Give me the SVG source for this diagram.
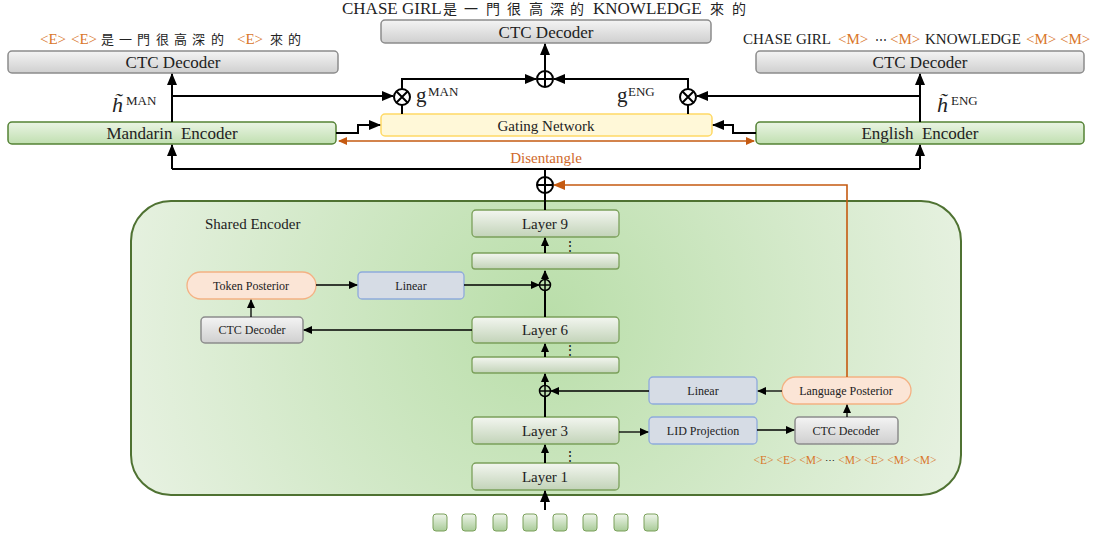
<svg xmlns="http://www.w3.org/2000/svg" width="1099" height="537" viewBox="0 0 1099 537">
<defs>
<linearGradient id="gGrey" x1="0" y1="0" x2="0" y2="1"><stop offset="0" stop-color="#f4f4f4"/><stop offset="1" stop-color="#cfcfcf"/></linearGradient>
<linearGradient id="gGreen" x1="0" y1="0" x2="0" y2="1"><stop offset="0" stop-color="#eaf4e4"/><stop offset="1" stop-color="#c0dfb0"/></linearGradient>
<linearGradient id="gLayer" x1="0" y1="0" x2="0" y2="1"><stop offset="0" stop-color="#f3f6f0"/><stop offset="1" stop-color="#c2d3b8"/></linearGradient>
<linearGradient id="gSq" x1="0" y1="0" x2="0" y2="1"><stop offset="0" stop-color="#eef5ea"/><stop offset="1" stop-color="#a9cb98"/></linearGradient>
<radialGradient id="gShared" cx="545" cy="320" r="430" gradientUnits="userSpaceOnUse"><stop offset="0" stop-color="#b9dea9"/><stop offset="1" stop-color="#e6f1e0"/></radialGradient>
<marker id="a" markerUnits="userSpaceOnUse" markerWidth="12" markerHeight="10" refX="11" refY="5" orient="auto"><path d="M0,0 L12,5 L0,10 z" fill="#000"/></marker>
<marker id="s" markerUnits="userSpaceOnUse" markerWidth="9" markerHeight="8" refX="8" refY="4" orient="auto"><path d="M0,0 L9,4 L0,8 z" fill="#000"/></marker>
<marker id="o" markerUnits="userSpaceOnUse" markerWidth="12" markerHeight="10" refX="11" refY="5" orient="auto"><path d="M0,0 L12,5 L0,10 z" fill="#c55a11"/></marker>
<marker id="os" markerUnits="userSpaceOnUse" markerWidth="9" markerHeight="8" refX="8" refY="4" orient="auto-start-reverse"><path d="M0,0 L9,4 L0,8 z" fill="#c55a11"/></marker>
</defs>
<style>
text{font-family:"Liberation Serif","Noto Sans CJK TC",serif;fill:#222;}
.c{text-anchor:middle;}
.cjk{font-family:"Noto Sans CJK TC","Liberation Serif",serif;}
.dj{font-family:"DejaVu Serif",serif;}
.or{fill:#d9772b;}
.grey{fill:url(#gGrey);stroke:#8c8c8c;stroke-width:1.5;}
.enc{fill:url(#gGreen);stroke:#548235;stroke-width:1.5;}
.layer{fill:url(#gLayer);stroke:#7ba05b;stroke-width:1.3;}
.lin{fill:#d6dce5;stroke:#8faadc;stroke-width:1.3;}
.post{fill:#fbe5d6;stroke:#f4b183;stroke-width:1.3;}
.gate{fill:#fff8d8;stroke:#ffd966;stroke-width:1.5;}
.sq{fill:url(#gSq);stroke:#7aa05a;stroke-width:1;}
.w{fill:none;stroke:#000;stroke-width:2;}
.t{fill:none;stroke:#000;stroke-width:1.3;}
.op{fill:none;stroke:#000;stroke-width:2;}
.ops{fill:none;stroke:#000;stroke-width:1.5;}
</style>

<!-- Shared encoder container -->
<g id="shared-encoder">
<rect x="131" y="201" width="830" height="294" rx="40" fill="url(#gShared)" stroke="#4f7232" stroke-width="2"/>
<text x="205" y="229" font-size="15">Shared Encoder</text>
</g>

<!-- top labels -->
<text x="342" y="14" font-size="17">CHASE GIRL<tspan class="cjk" font-size="14" x="443 464 486 507 529 550 570">是一門很高深的</tspan><tspan x="593">KNOWLEDGE</tspan><tspan class="cjk" font-size="14" x="710 732">來的</tspan></text>
<text y="44" font-size="15"><tspan class="or" x="40">&lt;E&gt;</tspan><tspan class="or" x="71">&lt;E&gt;</tspan><tspan class="cjk" font-size="13" x="101 119 137 156 174 192 211">是一門很高深的</tspan><tspan class="or" x="237">&lt;E&gt;</tspan><tspan class="cjk" font-size="13" x="270 288">來的</tspan></text>
<text y="44" font-size="15"><tspan x="743">CHASE  GIRL</tspan><tspan class="or" x="838">&lt;M&gt;</tspan><tspan class="dj" font-size="12" x="875">⋯</tspan><tspan class="or" x="890">&lt;M&gt;</tspan><tspan x="925">KNOWLEDGE</tspan><tspan class="or" x="1026">&lt;M&gt;</tspan><tspan class="or" x="1060">&lt;M&gt;</tspan></text>

<g id="ctc-top"><rect class="grey" x="381" y="20" width="330" height="23" rx="4"/><text class="c" x="546" y="38" font-size="17">CTC Decoder</text></g>
<g id="ctc-man"><rect class="grey" x="8" y="51" width="330" height="22" rx="4"/><text class="c" x="173" y="68" font-size="17">CTC Decoder</text></g>
<g id="ctc-eng"><rect class="grey" x="756" y="51" width="328" height="22" rx="4"/><text class="c" x="920" y="68" font-size="17">CTC Decoder</text></g>
<g id="mandarin-encoder"><rect class="enc" x="8" y="122" width="328" height="22" rx="4"/><text class="c" x="172" y="139" font-size="17" xml:space="preserve">Mandarin  Encoder</text></g>
<g id="english-encoder"><rect class="enc" x="756" y="122" width="328" height="22" rx="4"/><text class="c" x="920" y="139" font-size="17" xml:space="preserve">English  Encoder</text></g>
<g id="gating-network"><rect class="gate" x="381" y="114" width="331" height="22" rx="4"/><text class="c" x="546" y="131" font-size="15">Gating Network</text></g>

<g id="layer9"><rect class="layer" x="472" y="210" width="147" height="27" rx="4"/><text class="c" x="545" y="229" font-size="15">Layer 9</text></g>
<g id="layer-8"><rect class="layer" x="472" y="253" width="147" height="16" rx="3"/></g>
<g id="layer6"><rect class="layer" x="472" y="317" width="147" height="26" rx="4"/><text class="c" x="545" y="335" font-size="15">Layer 6</text></g>
<g id="layer-5"><rect class="layer" x="472" y="357" width="147" height="16" rx="3"/></g>
<g id="layer3"><rect class="layer" x="472" y="417" width="147" height="27" rx="4"/><text class="c" x="545" y="436" font-size="15">Layer 3</text></g>
<g id="layer1"><rect class="layer" x="472" y="463" width="147" height="27" rx="4"/><text class="c" x="545" y="482" font-size="15">Layer 1</text></g>

<g id="token-posterior"><rect class="post" x="187" y="272" width="129" height="27" rx="13.5"/><text class="c" x="251" y="290" font-size="12">Token Posterior</text></g>
<g id="linear-top"><rect class="lin" x="358" y="272" width="106" height="27" rx="4"/><text class="c" x="411" y="290" font-size="12">Linear</text></g>
<g id="ctc-shared"><rect class="grey" x="201" y="317" width="102" height="26" rx="4" stroke-width="1.2"/><text class="c" x="252" y="334" font-size="12">CTC Decoder</text></g>
<g id="linear-bottom"><rect class="lin" x="649" y="377" width="108" height="27" rx="4"/><text class="c" x="703" y="395" font-size="12">Linear</text></g>
<g id="language-posterior"><rect class="post" x="782" y="377" width="129" height="27" rx="13.5"/><text class="c" x="846" y="395" font-size="12">Language Posterior</text></g>
<g id="lid-projection"><rect class="lin" x="649" y="417" width="108" height="27" rx="4"/><text class="c" x="703" y="435" font-size="12">LID Projection</text></g>
<g id="ctc-lid"><rect class="grey" x="795" y="417" width="103" height="27" rx="4" stroke-width="1.2"/><text class="c" x="846" y="435" font-size="12">CTC Decoder</text></g>
<text class="c or" x="845" y="464" font-size="11.5" xml:space="preserve">&lt;E&gt; &lt;E&gt; &lt;M&gt; <tspan class="dj" font-size="10" fill="#222">⋯</tspan> &lt;M&gt; &lt;E&gt; &lt;M&gt; &lt;M&gt;</text>

<g id="inputs">
<rect class="sq" x="433" y="514" width="14" height="17" rx="3"/>
<rect class="sq" x="462" y="514" width="14" height="17" rx="3"/>
<rect class="sq" x="493" y="514" width="14" height="17" rx="3"/>
<rect class="sq" x="523" y="514" width="14" height="17" rx="3"/>
<rect class="sq" x="553" y="514" width="14" height="17" rx="3"/>
<rect class="sq" x="583" y="514" width="14" height="17" rx="3"/>
<rect class="sq" x="614" y="514" width="14" height="17" rx="3"/>
<rect class="sq" x="644" y="514" width="14" height="17" rx="3"/>
</g>

<!-- operators -->
<g id="otimes-man"><circle class="op" cx="402" cy="97" r="8" fill="#fff"/><path class="op" d="M396.3,91.3 L407.7,102.7 M407.7,91.3 L396.3,102.7"/></g>
<g id="otimes-eng"><circle class="op" cx="688" cy="97" r="8" fill="#fff"/><path class="op" d="M682.3,91.3 L693.7,102.7 M693.7,91.3 L682.3,102.7"/></g>
<g id="oplus-top"><circle class="op" cx="545" cy="79" r="8"/><path class="op" d="M537,79 H553 M545,71 V87"/></g>
<g id="oplus-mid"><circle class="op" cx="545" cy="185" r="8"/><path class="op" d="M537,185 H553 M545,177 V193"/></g>
<g id="oplus-l6"><circle class="ops" cx="545" cy="285" r="5.5"/><path class="ops" d="M539.5,285 H550.5 M545,279.5 V290.5"/></g>
<g id="oplus-l3"><circle class="ops" cx="545" cy="391" r="5.5"/><path class="ops" d="M539.5,391 H550.5 M545,385.5 V396.5"/></g>

<!-- labels -->
<text x="112" y="112" font-size="22" font-style="italic">h&#x303;</text><text x="126" y="105" font-size="13">MAN</text>
<text x="937" y="112" font-size="22" font-style="italic">h&#x303;</text><text x="951" y="105" font-size="13">ENG</text>
<text x="416" y="102" font-size="21">g</text><text x="428" y="96" font-size="13">MAN</text>
<text x="617" y="102" font-size="21">g</text><text x="628" y="96" font-size="13">ENG</text>
<text class="c" x="546" y="163" font-size="15" style="fill:#d0692a">Disentangle</text>
<text class="dj" x="563" y="251" font-size="14">⋮</text>
<text class="dj" x="563" y="355" font-size="14">⋮</text>
<text class="dj" x="563" y="461" font-size="14">⋮</text>

<g id="connectors">
<path class="w" d="M172,122 V74" marker-end="url(#a)"/>
<path class="w" d="M172,96 H393" marker-end="url(#a)"/>
<path class="w" d="M402,114 V105"/>
<path class="w" d="M402,89 V79 H536" marker-end="url(#a)"/>
<path class="w" d="M688,114 V105"/>
<path class="w" d="M688,89 V79 H554" marker-end="url(#a)"/>
<path class="w" d="M545,71 V44" marker-end="url(#a)"/>
<path class="w" d="M920,122 V74" marker-end="url(#a)"/>
<path class="w" d="M920,96 H697" marker-end="url(#a)"/>
<path class="w" d="M336,133 H358 V125 H380" marker-end="url(#a)"/>
<path class="w" d="M756,133 H733 V125 H713" marker-end="url(#a)"/>
<path fill="none" stroke="#c55a11" stroke-width="1.3" d="M339,141 H754" marker-start="url(#os)" marker-end="url(#os)"/>
<path class="w" d="M545,177 V169"/>
<path class="w" d="M172,169 H920"/>
<path class="w" d="M172,169 V145" marker-end="url(#a)"/>
<path class="w" d="M920,169 V145" marker-end="url(#a)"/>
<path class="w" d="M545,193 V210"/>
<path fill="none" stroke="#c55a11" stroke-width="1.6" d="M847,377 V185 H554" marker-end="url(#o)"/>
<path class="w" d="M545,253 V238" marker-end="url(#s)"/>
<path class="w" d="M545,317 V290.5"/>
<path class="w" d="M545,279.5 V271" marker-end="url(#s)"/>
<path class="t" d="M464,285 H539" marker-end="url(#s)"/>
<path class="w" d="M545,357 V344" marker-end="url(#s)"/>
<path class="w" d="M545,417 V396.5"/>
<path class="w" d="M545,385.5 V374" marker-end="url(#s)"/>
<path class="t" d="M649,391 H551" marker-end="url(#s)"/>
<path class="w" d="M545,463 V445" marker-end="url(#s)"/>
<path class="w" d="M545,510 V491" marker-end="url(#a)"/>
<path class="t" d="M619,432 H648" marker-end="url(#s)"/>
<path class="t" d="M757,430 H794" marker-end="url(#s)"/>
<path class="t" d="M847,417 V405" marker-end="url(#s)"/>
<path class="t" d="M782,391 H758" marker-end="url(#s)"/>
<path class="t" d="M472,330 H304" marker-end="url(#s)"/>
<path class="t" d="M251,317 V300" marker-end="url(#s)"/>
<path class="t" d="M316,285 H357" marker-end="url(#s)"/>
</g>
</svg>
